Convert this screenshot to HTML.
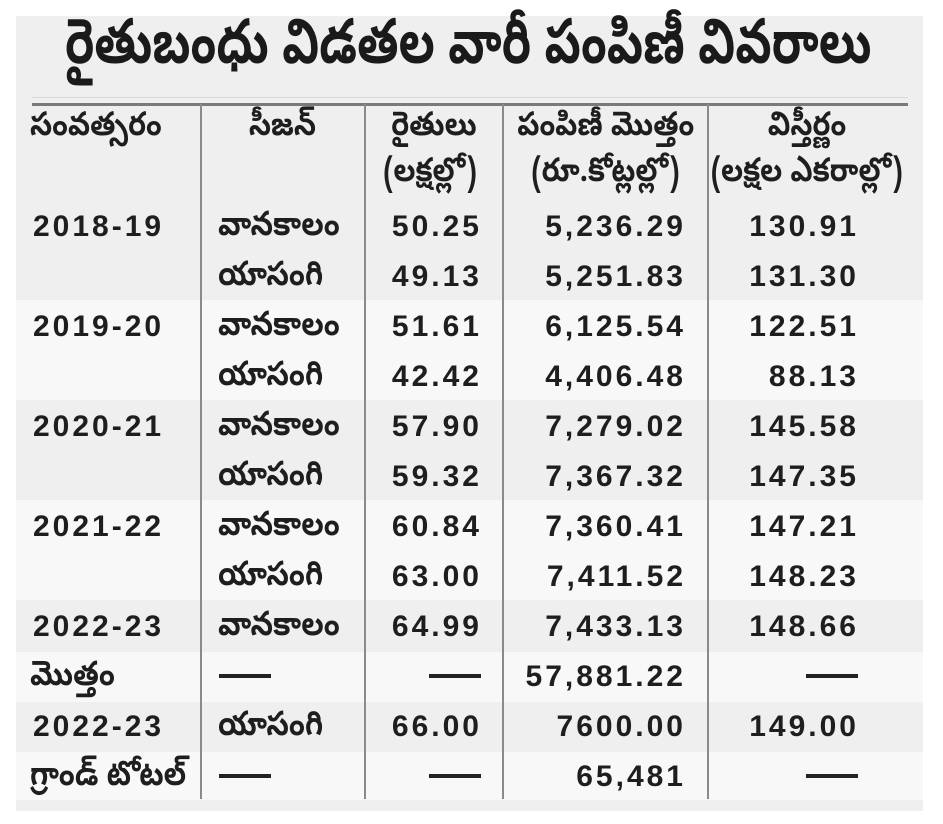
<!DOCTYPE html>
<html>
<head>
<meta charset="utf-8">
<style>
  html,body{margin:0;padding:0;background:#ffffff;}
  body{width:943px;height:824px;position:relative;overflow:hidden;
       font-family:"Liberation Sans","Noto Sans Telugu","Lohit Telugu","Gautami",sans-serif;color:#1e1e1e;}
  .panel{position:absolute;left:16px;top:16px;width:907px;height:795px;background:#efefef;}
  .band{position:absolute;left:16px;width:907px;background:#f8f8f8;}
  .rule1{position:absolute;left:32px;top:97px;width:876px;height:1px;background:#d8d8d8;}
  .rule2{position:absolute;left:32px;top:103px;width:876px;height:3px;background:#7a7a7a;}
  .vsep{position:absolute;top:104px;height:695px;width:2px;background:#8a8a8a;}
  .t{position:absolute;white-space:nowrap;}
  .title{left:65px;top:16px;font-size:62px;line-height:70px;font-weight:bold;transform:scaleX(0.759);transform-origin:0 0;font-family:"Noto Sans Telugu","Lohit Telugu","Gautami","Liberation Sans",sans-serif;color:#1a1a1a;}
  .h{font-size:33px;line-height:40px;font-weight:bold;transform:scaleX(0.87);font-family:"Noto Sans Telugu","Lohit Telugu","Gautami","Liberation Sans",sans-serif;}
  .hl{transform-origin:0 50%;}
  .tel{font-size:34px;line-height:50px;font-weight:bold;transform:scaleX(0.86);transform-origin:0 50%;font-family:"Noto Sans Telugu","Lohit Telugu","Gautami","Liberation Sans",sans-serif;}
  .num{font-size:30px;line-height:50px;font-weight:bold;letter-spacing:3px;font-family:"Liberation Sans",Arial,sans-serif;}
  .dash{position:absolute;height:4px;width:52px;background:#222;}
</style>
</head>
<body>
<div class="panel"></div>
<div class="band" style="top:300px;height:100px;"></div>
<div class="band" style="top:500px;height:100px;"></div>
<div class="band" style="top:652px;height:50px;"></div>
<div class="band" style="top:752px;height:48px;"></div>

<div class="t title">రైతుబంధు విడతల వారీ పంపిణీ వివరాలు</div>

<div class="rule1"></div>
<div class="rule2"></div>

<div class="vsep" style="left:200px;"></div>
<div class="vsep" style="left:364px;"></div>
<div class="vsep" style="left:502px;"></div>
<div class="vsep" style="left:707px;"></div>

<!-- header -->
<div class="t h hl" style="left:30px;top:109px;">సంవత్సరం</div>
<div class="t h" style="left:201px;width:163px;text-align:center;top:109px;">సీజన్</div>
<div class="t h" style="left:366px;width:136px;text-align:center;top:109px;">రైతులు</div>
<div class="t h" style="left:362px;width:136px;text-align:center;top:155px;">(లక్షల్లో)</div>
<div class="t h" style="left:504px;width:203px;text-align:center;top:109px;">పంపిణీ మొత్తం</div>
<div class="t h" style="left:504px;width:203px;text-align:center;top:155px;">(రూ.కోట్లల్లో)</div>
<div class="t h" style="left:709px;width:196px;text-align:center;top:109px;">విస్తీర్ణం</div>
<div class="t h" style="left:698px;width:196px;text-align:center;top:155px;">(లక్షల ఎకరాల్లో)</div>

<!-- row 1 -->
<div class="t num" style="left:33px;top:202px;">2018-19</div>
<div class="t tel" style="left:218px;top:204px;">వానకాలం</div>
<div class="t num" style="right:461px;top:202px;">50.25</div>
<div class="t num" style="right:257px;top:202px;">5,236.29</div>
<div class="t num" style="right:84px;top:202px;">130.91</div>
<!-- row 2 -->
<div class="t tel" style="left:218px;top:254px;">యాసంగి</div>
<div class="t num" style="right:461px;top:252px;">49.13</div>
<div class="t num" style="right:257px;top:252px;">5,251.83</div>
<div class="t num" style="right:84px;top:252px;">131.30</div>
<!-- row 3 -->
<div class="t num" style="left:33px;top:302px;">2019-20</div>
<div class="t tel" style="left:218px;top:304px;">వానకాలం</div>
<div class="t num" style="right:461px;top:302px;">51.61</div>
<div class="t num" style="right:257px;top:302px;">6,125.54</div>
<div class="t num" style="right:84px;top:302px;">122.51</div>
<!-- row 4 -->
<div class="t tel" style="left:218px;top:354px;">యాసంగి</div>
<div class="t num" style="right:461px;top:352px;">42.42</div>
<div class="t num" style="right:257px;top:352px;">4,406.48</div>
<div class="t num" style="right:84px;top:352px;">88.13</div>
<!-- row 5 -->
<div class="t num" style="left:33px;top:402px;">2020-21</div>
<div class="t tel" style="left:218px;top:404px;">వానకాలం</div>
<div class="t num" style="right:461px;top:402px;">57.90</div>
<div class="t num" style="right:257px;top:402px;">7,279.02</div>
<div class="t num" style="right:84px;top:402px;">145.58</div>
<!-- row 6 -->
<div class="t tel" style="left:218px;top:454px;">యాసంగి</div>
<div class="t num" style="right:461px;top:452px;">59.32</div>
<div class="t num" style="right:257px;top:452px;">7,367.32</div>
<div class="t num" style="right:84px;top:452px;">147.35</div>
<!-- row 7 -->
<div class="t num" style="left:33px;top:502px;">2021-22</div>
<div class="t tel" style="left:218px;top:504px;">వానకాలం</div>
<div class="t num" style="right:461px;top:502px;">60.84</div>
<div class="t num" style="right:257px;top:502px;">7,360.41</div>
<div class="t num" style="right:84px;top:502px;">147.21</div>
<!-- row 8 -->
<div class="t tel" style="left:218px;top:554px;">యాసంగి</div>
<div class="t num" style="right:461px;top:552px;">63.00</div>
<div class="t num" style="right:257px;top:552px;">7,411.52</div>
<div class="t num" style="right:84px;top:552px;">148.23</div>
<!-- row 9 -->
<div class="t num" style="left:33px;top:602px;">2022-23</div>
<div class="t tel" style="left:218px;top:604px;">వానకాలం</div>
<div class="t num" style="right:461px;top:602px;">64.99</div>
<div class="t num" style="right:257px;top:602px;">7,433.13</div>
<div class="t num" style="right:84px;top:602px;">148.66</div>
<!-- row 10 -->
<div class="t tel" style="left:30px;top:654px;">మొత్తం</div>
<div class="dash" style="left:219px;top:674px;"></div>
<div class="dash" style="left:429px;top:674px;"></div>
<div class="t num" style="right:257px;top:652px;">57,881.22</div>
<div class="dash" style="left:806px;top:674px;"></div>
<!-- row 11 -->
<div class="t num" style="left:33px;top:702px;">2022-23</div>
<div class="t tel" style="left:218px;top:704px;">యాసంగి</div>
<div class="t num" style="right:461px;top:702px;">66.00</div>
<div class="t num" style="right:257px;top:702px;">7600.00</div>
<div class="t num" style="right:84px;top:702px;">149.00</div>
<!-- row 12 -->
<div class="t tel" style="left:30px;top:754px;">గ్రాండ్ టోటల్</div>
<div class="dash" style="left:219px;top:774px;"></div>
<div class="dash" style="left:429px;top:774px;"></div>
<div class="t num" style="right:257px;top:752px;">65,481</div>
<div class="dash" style="left:806px;top:774px;"></div>
</body>
</html>
